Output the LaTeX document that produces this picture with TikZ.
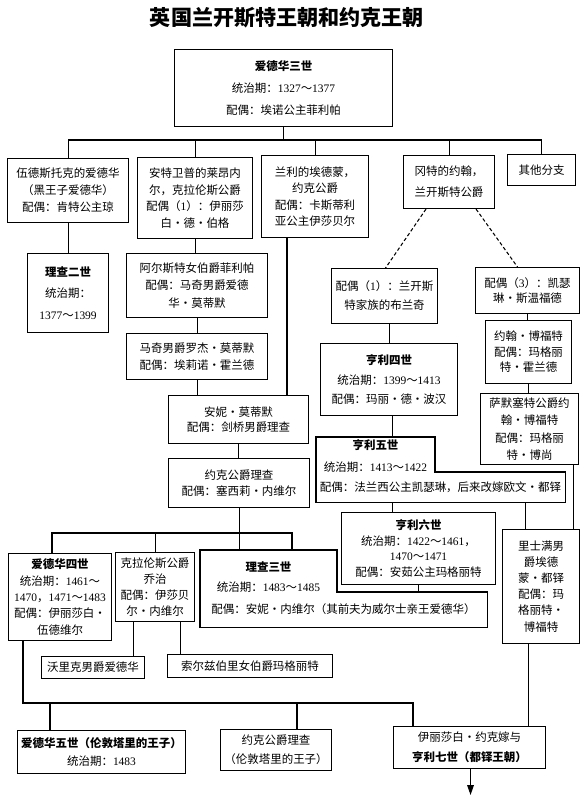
\documentclass[tikz,border=0pt]{standalone}
\usepackage{fontspec}
\setmainfont{Noto Sans CJK SC}
\newfontfamily\numfont{Liberation Serif}
\usepackage{tikz}
\usetikzlibrary{positioning, arrows.meta, calc}
\newcommand{\yr}[1]{{\numfont #1}}

\begin{document}
\begin{tikzpicture}[
  x=0.3mm, y=-0.3mm,
  font=\fontsize{9.8}{14.5}\selectfont,
  box/.style={rectangle, draw=black, line width=0.9pt, fill=white,
              inner sep=0pt, align=center, anchor=north west},
  frame/.style={rectangle, inner sep=0pt, anchor=north west},
  sz/.style 2 args={minimum width=#1*0.3mm, minimum height=#2*0.3mm},
  ls/.style={font=\fontsize{9.8}{#1}\selectfont},
  txt/.style={inner sep=0pt, align=center},
  ttl/.style={font=\fontsize{18}{20}\selectfont\bfseries},
  ln/.style={line width=0.9pt},
  dsh/.style={ln, dash pattern=on 3pt off 2pt},
  arr/.style={ln, -{Triangle[length=3mm, width=2mm]}}
]
\useasboundingbox[fill=white] (0,0) rectangle (580,798);

% --- title ---
\node[ttl] (title) at (287,18) {英国兰开斯特王朝和约克王朝};

% --- generation 1 ---
\node[box, sz={218}{77}, ls=18.7] at (174,49) (e3) {%
  \textbf{爱德华三世}\\
  统治期：\yr{1327}～\yr{1377}\\
  配偶：埃诺公主菲利帕};

% --- generation 2: children of Edward III ---
\node[box, sz={121}{64}, ls=14.5] at (7,158) (wd) {%
  伍德斯托克的爱德华\\（黑王子爱德华）\\配偶：肯特公主琼};
\node[box, sz={115}{81}, ls=14.3] at (137,157) (an) {%
  安特卫普的莱昂内\\尔，克拉伦斯公爵\\配偶（\yr{1}）：伊丽莎\\白·德·伯格};
\node[box, sz={107}{82}, ls=13.9] at (261,155) (ed) {%
  兰利的埃德蒙，\\约克公爵\\配偶：卡斯蒂利\\亚公主伊莎贝尔};
\node[box, sz={91}{53}, ls=17.9] at (403,155) (dk) {%
  冈特的约翰，\\兰开斯特公爵};
\node[box, sz={68}{31}] at (507,154) (ob) {其他分支};

% --- left branches ---
\node[box, sz={81}{79}, ls=18.3] at (27,253) (r2) {%
  \textbf{理查二世}\\统治期：\\\yr{1377}～\yr{1399}};
\node[box, sz={141}{64}, ls=15] at (126,253) (ph) {%
  阿尔斯特女伯爵菲利帕\\配偶：马奇男爵爱德\\华·莫蒂默};
\node[box, sz={141}{46}, ls=14.5] at (126,333) (rm) {%
  马奇男爵罗杰·莫蒂默\\配偶：埃莉诺·霍兰德};
\node[box, sz={140}{48}, ls=13] at (168,395) (am) {%
  安妮·莫蒂默\\配偶：剑桥男爵理查};
\node[box, sz={141}{49}, ls=13.6] at (168,458) (yk) {%
  约克公爵理查\\配偶：塞西莉·内维尔};

% --- Lancaster branch ---
\node[box, sz={106}{55}, ls=16.2] at (331,268) (bl) {%
  配偶（\yr{1}）：兰开斯\\特家族的布兰奇};
\node[box, sz={104}{46}, ls=12.5] at (475,267) (sw) {%
  配偶（\yr{3}）：凯瑟\\琳·斯温福德};
\node[box, sz={86}{63}, ls=13.2] at (485,320) (jb) {%
  约翰·博福特\\配偶：玛格丽\\特·霍兰德};
\node[box, sz={98}{71}, ls=15] at (480,393) (so) {%
  萨默塞特公爵约\\翰·博福特\\配偶：玛格丽\\特·博尚};
\node[box, sz={137}{72}, ls=16.6] at (320,343) (h4) {%
  \textbf{亨利四世}\\
  统治期：\yr{1399}～\yr{1413}\\
  配偶：玛丽·德·波汉};

% --- Henry V (stepped box) ---
\node[frame, sz={249}{65}] at (316,437) (h5) {};
\coordinate (h5k) at (435,472);
\draw[ln, fill=white] (h5.north west) -- (h5.north west -| h5k) -- (h5k)
  -- (h5k -| h5.east) -- (h5.south east) -- (h5.south west) -- cycle;
\node[txt, ls=18.7] at (375.5,456) (h5t) {%
  \textbf{亨利五世}\\统治期：\yr{1413}～\yr{1422}};
\node[txt] at (440.5,487) (h5s) {%
  配偶：法兰西公主凯瑟琳，后来改嫁欧文·都铎};

\node[box, sz={154}{72}, ls=13.6] at (341,512) (h6) {%
  \textbf{亨利六世}\\
  统治期：\yr{1422}～\yr{1461}，\\
  \yr{1470}～\yr{1471}\\
  配偶：安茹公主玛格丽特};
\node[box, sz={77}{114}, ls=13.7] at (502,529) (et) {%
  里士满男\\爵埃德\\蒙·都铎\\配偶：玛\\格丽特·\\博福特};

% --- York generation ---
\node[box, sz={103}{87}, ls=14] at (8,553) (e4) {%
  \textbf{爱德华四世}\\
  统治期：\yr{1461}～\\
  \yr{1470}，\yr{1471}～\yr{1483}\\
  配偶：伊丽莎白·\\伍德维尔};
\node[box, sz={79}{69}, ls=13.9] at (115,552) (cl) {%
  克拉伦斯公爵\\乔治\\配偶：伊莎贝\\尔·内维尔};

% --- Richard III (stepped box) ---
\node[frame, sz={287}{77}] at (200,550) (r3) {};
\coordinate (r3k) at (337,592);
\draw[ln, fill=white] (r3.north west) -- (r3.north west -| r3k) -- (r3k)
  -- (r3k -| r3.east) -- (r3.south east) -- (r3.south west) -- cycle;
\node[txt, ls=17] at (268.5,577) (r3t) {%
  \textbf{理查三世}\\统治期：\yr{1483}～\yr{1485}};
\node[txt] at (343.5,609) (r3s) {%
  配偶：安妮·内维尔（其前夫为威尔士亲王爱德华）};

\node[box, sz={103}{22}] at (41,656) (wa) {沃里克男爵爱德华};
\node[box, sz={165}{23}] at (167,654) (sa) {索尔兹伯里女伯爵玛格丽特};

% --- last generation ---
\node[box, sz={168}{43}, ls=16] at (17,730) (e5) {%
  \textbf{爱德华五世（伦敦塔里的王子）}\\统治期：\yr{1483}};
\node[box, sz={111}{41}, ls=16] at (220,729) (ym) {%
  约克公爵理查\\（伦敦塔里的王子）};
\node[box, sz={152}{42}, ls=17] at (393,726) (k) {%
  伊丽莎白·约克嫁与\\\textbf{亨利七世（都铎王朝）}};

% --- connectors: Edward III to children ---
\coordinate (j1) at (0,140);
\draw[ln] (e3.south) -- (e3.south |- j1);
\draw[ln] (wd.north) -- (wd.north |- j1) -- (ob.north |- j1) -- (ob.north);
\foreach \n in {an, ed, dk}
  \draw[ln] (\n.north) -- (\n.north |- j1);

% --- connectors: left side ---
\draw[ln] (wd.south) -- (wd.south |- r2.north);
\draw[ln] (an.south) -- (an.south |- ph.north);
\draw[ln] (ph.south) -- (ph.south |- rm.north);
\draw[ln] (rm.south) -- (rm.south |- am.north);
\coordinate (ed1) at ($(ed.south west)+(26,0)$);
\draw[ln] (ed1) -- (ed1 |- am.north);
\draw[ln] (am.south) -- (am.south |- yk.north);
\draw[ln] (yk.south) -- (yk.south |- r3.north);

% --- connectors: Lancaster side ---
\draw[dsh] ($(dk.south)+(-23,0)$) -- ($(bl.north)+(1,0)$);
\draw[dsh] ($(dk.south)+(27,0)$) -- ($(sw.north)+(-10,0)$);
\coordinate (bl1) at ($(bl.south)+(5,0)$);
\draw[ln] (bl1) -- (bl1 |- h4.north);
\draw[ln] (sw.south) -- (sw.south |- jb.north);
\draw[ln] (jb.south) -- (jb.south |- so.north);
\coordinate (h41) at ($(h4.south)+(3,0)$);
\draw[ln] (h41) -- (h41 |- h5.north);
\draw[ln] (h41 |- h5.south) -- (h41 |- h6.north);
\draw[ln] (h6.south) -- (h6.south |- r3k);
\coordinate (et1) at ($(et.north)+(-16,0)$);
\coordinate (et2) at ($(et.north)+(32,0)$);
\coordinate (et3) at ($(et.south)+(-13,0)$);
\draw[ln] (et1 |- h5.south) -- (et1);
\draw[ln] (et2 |- so.south) -- (et2);
\draw[ln] (et3) -- (et3 |- k.north);

% --- connectors: children of Richard of York ---
\coordinate (j2) at (0,533);
\coordinate (e41) at ($(e4.north west)+(44,0)$);
\coordinate (r31) at ($(r3.north west)+(92,0)$);
\draw[ln] (e41) -- (e41 |- j2) -- (r31 |- j2) -- (r31);
\draw[ln] (cl.north) -- (cl.north |- j2);
\coordinate (cl1) at ($(cl.south)+(-22,0)$);
\coordinate (cl2) at ($(cl.south)+(25,0)$);
\draw[ln] (cl1) -- (cl1 |- wa.north);
\draw[ln] (cl2) -- (cl2 |- sa.north);

% --- connectors: children of Edward IV ---
\coordinate (j3) at (0,703);
\coordinate (e42) at ($(e4.south west)+(15,0)$);
\coordinate (e51) at ($(e5.north west)+(33,0)$);
\coordinate (ym1) at ($(ym.north west)+(77,0)$);
\coordinate (k1) at ($(k.north west)+(20,0)$);
\draw[ln] (e42) -- (e42 |- j3) -- (k1 |- j3) -- (k1);
\draw[ln] (e51 |- j3) -- (e51);
\draw[ln] (ym1 |- j3) -- (ym1);

% --- arrow: on to the Tudors ---
\coordinate (k2) at ($(k.south)+(1,0)$);
\coordinate (kend) at (470,795);
\draw[arr] (k2) -- (k2 |- kend);
\end{tikzpicture}
\end{document}
